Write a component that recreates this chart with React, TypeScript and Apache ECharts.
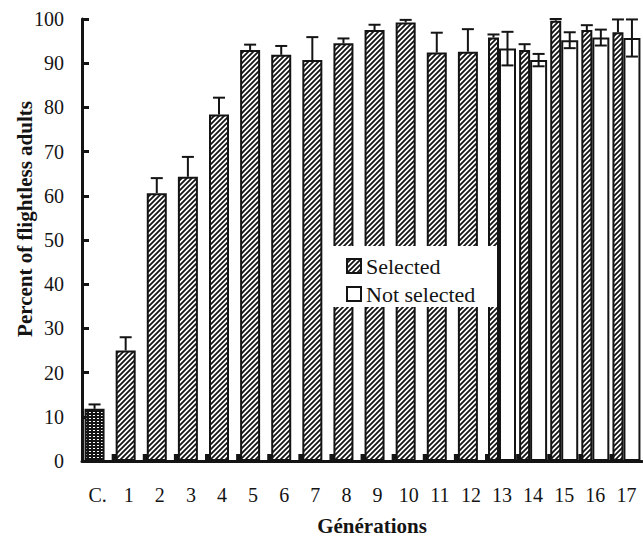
import React, { useEffect, useRef } from 'react';
import * as echarts from 'echarts';

const categories = ['C.', '1', '2', '3', '4', '5', '6', '7', '8', '9', '10', '11', '12', '13', '14', '15', '16', '17'];
const selectedValues = [11.8, 25.0, 60.6, 64.3, 78.4, 93.0, 91.9, 90.7, 94.5, 97.5, 99.2, 92.4, 92.6, 95.8, 93.0, 99.6, 97.5, 97.0];
const selectedErrors = [1.0, 3.0, 3.4, 4.5, 3.8, 1.2, 2.0, 5.2, 1.1, 1.2, 0.6, 4.5, 5.1, 0.7, 1.3, 0.4, 1.1, 2.9];
const notSelectedValues: (number | null)[] = [null, null, null, null, null, null, null, null, null, null, null, null, null, 93.3, 90.7, 95.2, 95.8, 95.7];
const notSelectedErrors: (number | null)[] = [null, null, null, null, null, null, null, null, null, null, null, null, null, 3.8, 1.4, 1.8, 1.8, 4.2];
const legendNames = ['Selected', 'Not selected'];
const yTicks = { min: 0, max: 100, interval: 10 };

const FONT = '"Liberation Serif", "Times New Roman", Times, serif';
const INK = '#141414';

function hatchCanvas() {
  const s = 5;
  const c = document.createElement('canvas');
  c.width = s;
  c.height = s;
  const ctx = c.getContext('2d')!;
  ctx.fillStyle = '#fff';
  ctx.fillRect(0, 0, s, s);
  ctx.strokeStyle = INK;
  ctx.lineWidth = 1.8;
  ctx.beginPath();
  ctx.moveTo(-1, s + 1); ctx.lineTo(s + 1, -1);
  ctx.moveTo(-2, 2); ctx.lineTo(2, -2);
  ctx.moveTo(s - 2, s + 2); ctx.lineTo(s + 2, s - 2);
  ctx.stroke();
  return c;
}

function stippleCanvas() {
  const c = document.createElement('canvas');
  c.width = 4;
  c.height = 3;
  const ctx = c.getContext('2d')!;
  ctx.fillStyle = INK;
  ctx.fillRect(0, 0, 4, 3);
  ctx.fillStyle = '#fff';
  ctx.fillRect(1, 1, 2, 1);
  return c;
}

export default function App() {
  const ref = useRef<HTMLDivElement>(null);
  useEffect(() => {
    document.body.style.margin = '0';
    const chart = echarts.init(ref.current!, null, { renderer: 'svg' });
    const hatch = { image: hatchCanvas(), repeat: 'repeat' } as any;
    const stipple = { image: stippleCanvas(), repeat: 'repeat' } as any;
    const isPaired = (i: number) => notSelectedValues[i] != null;

    const singleData = selectedValues.map((v, i) =>
      isPaired(i) ? '-' : i === 0 ? { value: v, itemStyle: { color: stipple } } : v
    );
    const pairedSelData = selectedValues.map((v, i) => (isPaired(i) ? v : '-'));
    const notSelData = notSelectedValues.map((v) => (v == null ? '-' : v));

    // error data: [categoryIndex, value, error, kind]  kind 0=single,1=paired selected,2=not selected
    const errData: number[][] = [];
    selectedValues.forEach((v, i) => errData.push([i, v, selectedErrors[i], isPaired(i) ? 1 : 0]));
    notSelectedValues.forEach((v, i) => {
      if (v != null) errData.push([i, v, notSelectedErrors[i] as number, 2]);
    });
    const baseData = categories.map((_, i) => [i, 0]).filter((d) => d[0] > 0);

    const axisLabel = { fontSize: 20, fontFamily: FONT, color: INK };
    const legendFills = [hatch, '#fff'];

    // legend drawn as graphic (box with white background over the bars)
    const legendBox = { x: 330, y: 246, w: 167, h: 61, padL: 17, rowTop: 266, rowGap: 28, icon: 14 };
    const legendGraphic: any[] = [
      {
        type: 'rect',
        z: 10,
        shape: { x: legendBox.x, y: legendBox.y, width: legendBox.w, height: legendBox.h },
        style: { fill: '#fff' },
        silent: true,
      },
    ];
    legendNames.forEach((name, i) => {
      const cy = legendBox.rowTop + i * legendBox.rowGap;
      legendGraphic.push({
        type: 'rect',
        z: 11,
        shape: { x: legendBox.x + legendBox.padL, y: cy - legendBox.icon / 2, width: legendBox.icon, height: legendBox.icon },
        style: { fill: legendFills[i], stroke: INK, lineWidth: 2 },
        silent: true,
      });
      legendGraphic.push({
        type: 'text',
        z: 11,
        x: legendBox.x + legendBox.padL + legendBox.icon + 5,
        y: cy,
        style: {
          text: name,
          fontSize: 22,
          fontFamily: FONT,
          fill: INK,
          align: 'left',
          verticalAlign: 'middle',
        },
        silent: true,
      });
    });

    chart.setOption({
      animation: false,
      backgroundColor: '#fff',
      textStyle: { fontFamily: FONT, color: INK },
      grid: { left: 82, right: 1, top: 19, bottom: 78, containLabel: false },
      xAxis: [
        {
          type: 'category',
          data: categories,
          axisLine: { show: true, lineStyle: { color: INK, width: 3 } },
          axisTick: { show: false },
          axisLabel: { ...axisLabel, interval: 0, margin: 24 },
          splitLine: { show: false },
        },
        {
          type: 'category',
          data: categories,
          show: false,
        },
      ],
      yAxis: {
        type: 'value',
        min: yTicks.min,
        max: yTicks.max,
        interval: yTicks.interval,
        axisLine: { show: true, lineStyle: { color: INK, width: 3 } },
        axisTick: { show: true, inside: true, length: 7, lineStyle: { color: INK, width: 3 } },
        splitLine: { show: false },
        axisLabel: { ...axisLabel, margin: 18 },
      },
      graphic: [
        {
          type: 'text',
          x: 25,
          y: 219,
          rotation: Math.PI / 2,
          style: {
            text: 'Percent of flightless adults',
            fontSize: 21,
            fontWeight: 'bold',
            fontFamily: FONT,
            fill: INK,
            align: 'center',
            verticalAlign: 'middle',
          },
        },
        {
          type: 'text',
          x: 372,
          y: 526,
          style: {
            text: 'Générations',
            fontSize: 21,
            fontWeight: 'bold',
            fontFamily: FONT,
            fill: INK,
            align: 'center',
            verticalAlign: 'middle',
          },
        },
        ...legendGraphic,
      ],
      series: [
        {
          name: 'Selected',
          type: 'bar',
          xAxisIndex: 0,
          barWidth: 20,
          barGap: '0%',
          data: singleData,
          itemStyle: { color: hatch, borderColor: INK, borderWidth: 2 },
        },
        {
          name: 'spacer',
          type: 'bar',
          xAxisIndex: 0,
          barWidth: 6,
          barGap: '0%',
          silent: true,
          data: categories.map(() => '-'),
        },
        {
          name: 'Selected',
          type: 'bar',
          xAxisIndex: 1,
          barWidth: 11,
          barGap: '0%',
          data: pairedSelData,
          itemStyle: { color: hatch, borderColor: INK, borderWidth: 2 },
        },
        {
          name: 'Not selected',
          type: 'bar',
          xAxisIndex: 1,
          barWidth: 17,
          barGap: '0%',
          data: notSelData,
          itemStyle: { color: '#fff', borderColor: INK, borderWidth: 2 },
        },
        {
          name: 'bases',
          type: 'custom',
          xAxisIndex: 0,
          silent: true,
          data: baseData,
          renderItem: (params: any, api: any) => {
            const p = api.coord([api.value(0), 0]);
            return {
              type: 'rect',
              shape: { x: p[0] - 17, y: p[1] - 7, width: 6, height: 7 },
              style: { fill: INK },
            };
          },
        },
        {
          name: 'errors',
          type: 'custom',
          xAxisIndex: 0,
          silent: true,
          z: 3,
          data: errData,
          renderItem: (params: any, api: any) => {
            const idx = api.value(0);
            const v = api.value(1);
            const e = api.value(2);
            const kind = api.value(3);
            const offset = kind === 0 ? -3 : kind === 1 ? -8.5 : 5.5;
            const hi = api.coord([idx, v + e]);
            const mid = api.coord([idx, v]);
            const lo = api.coord([idx, v - e]);
            const x = hi[0] + offset;
            const yBottom = kind === 2 ? lo[1] : mid[1];
            const cap = 6;
            const st = { stroke: INK, lineWidth: 2 };
            const children: any[] = [
              { type: 'line', shape: { x1: x, y1: hi[1], x2: x, y2: yBottom }, style: st },
              { type: 'line', shape: { x1: x - cap, y1: hi[1], x2: x + cap, y2: hi[1] }, style: st },
            ];
            if (kind === 2) {
              children.push({ type: 'line', shape: { x1: x - cap, y1: lo[1], x2: x + cap, y2: lo[1] }, style: st });
            }
            return { type: 'group', children };
          },
        },
      ],
    });
    return () => chart.dispose();
  }, []);
  return <div ref={ref} style={{ width: 643, height: 539 }} />;
}
